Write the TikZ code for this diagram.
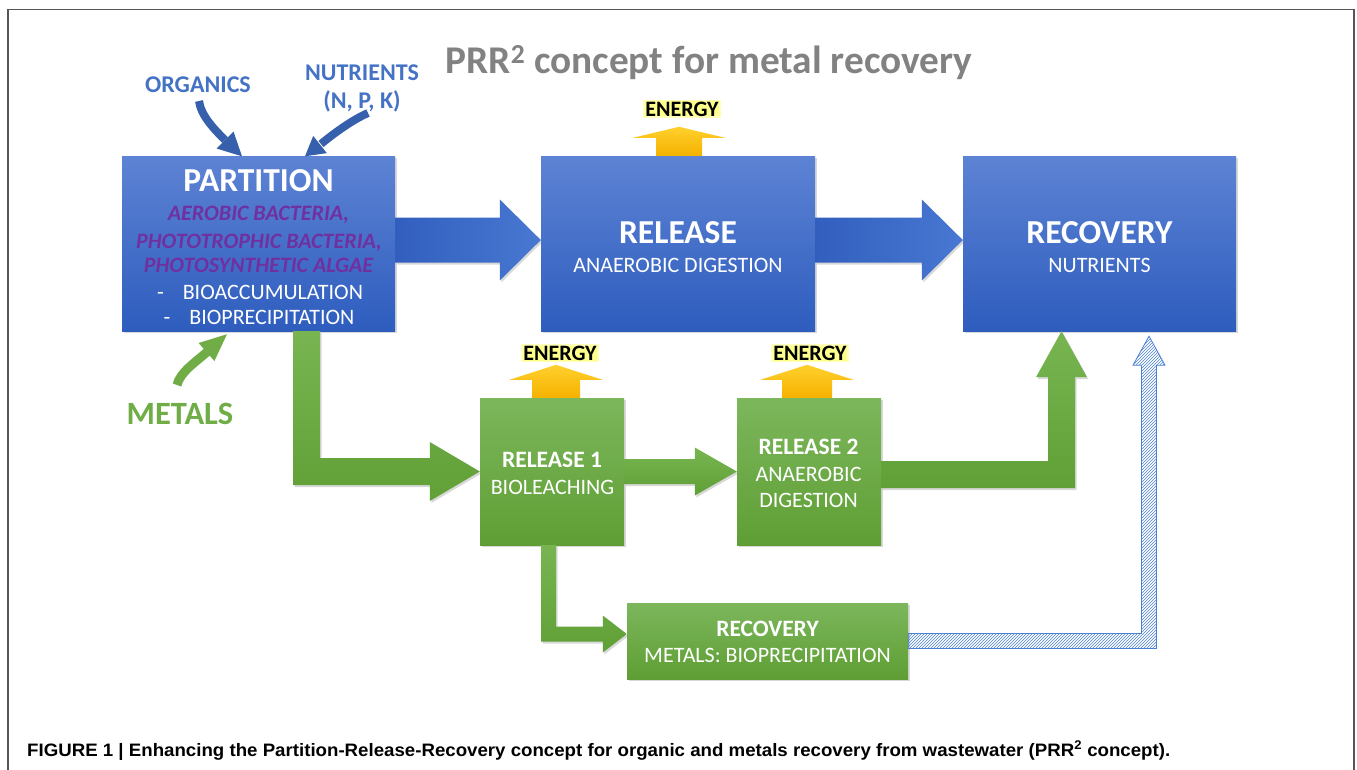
\documentclass[tikz,border=0pt]{standalone}
\usepackage{fontspec}
\setmainfont{Carlito}
\newfontfamily\capfont{Liberation Sans}
\usetikzlibrary{calc,shadows,patterns}
\definecolor{boxBlueT}{RGB}{93,131,212}
\definecolor{boxBlueB}{RGB}{46,93,190}
\definecolor{arrBlueL}{RGB}{50,95,190}
\definecolor{arrBlueR}{RGB}{72,120,210}
\definecolor{boxGreenT}{RGB}{124,183,92}
\definecolor{boxGreenB}{RGB}{95,158,52}
\definecolor{arrGreenT}{RGB}{120,181,82}
\definecolor{arrGreenB}{RGB}{96,160,54}
\definecolor{enerT}{RGB}{255,208,45}
\definecolor{enerB}{RGB}{245,178,0}
\definecolor{enerBg}{RGB}{255,255,140}
\definecolor{inBlue}{RGB}{55,96,172}
\definecolor{txtBlue}{RGB}{68,114,196}
\definecolor{txtGreen}{RGB}{112,173,71}
\definecolor{txtPurple}{RGB}{112,48,160}
\definecolor{titleGray}{RGB}{130,130,130}
\definecolor{hatchBlue}{RGB}{75,128,212}
\definecolor{frameGray}{RGB}{85,85,85}
% horizontal block arrow: start, tip, half shaft, head length, half head, style
\newcommand\hblock[6]{%
  \path[#6] ($(#1)+(0,-#3)$) -- ($(#2)+(-#4,-#3)$) -- ($(#2)+(-#4,-#5)$) -- (#2)
    -- ($(#2)+(-#4,#5)$) -- ($(#2)+(-#4,#3)$) -- ($(#1)+(0,#3)$) -- cycle;}
% upward block arrow: start (bottom), tip (top), half shaft, head length, half head, style
\newcommand\vblock[6]{%
  \path[#6] ($(#1)+(-#3,0)$) -- ($(#2)+(-#3,#4)$) -- ($(#2)+(-#5,#4)$) -- (#2)
    -- ($(#2)+(#5,#4)$) -- ($(#2)+(#3,#4)$) -- ($(#1)+(#3,0)$) -- cycle;}
\tikzset{
  shad/.style={drop shadow={opacity=0.3,shadow xshift=1.5pt,shadow yshift=-2pt}},
  bluebox/.style={rectangle, inner sep=0pt, top color=boxBlueT, bottom color=boxBlueB, shad},
  greenbox/.style={rectangle, inner sep=0pt, top color=boxGreenT, bottom color=boxGreenB, shad},
  bluearrow/.style={left color=arrBlueL, right color=arrBlueR, shad},
  greenarrow/.style={top color=arrGreenT, bottom color=arrGreenB, shad},
  energyarrow/.style={top color=enerT, bottom color=enerB},
  hatcharrow/.style={pattern=north east lines, pattern color=hatchBlue, draw=hatchBlue, line width=0.8pt},
  wt/.style={text=white, inner sep=0pt, anchor=base},
  bigt/.style={wt, font=\fontsize{33.5}{34}\selectfont\bfseries},
  subt/.style={wt, font=\fontsize{22}{22}\selectfont},
  midt/.style={wt, font=\fontsize{23.5}{24}\selectfont\bfseries},
  purt/.style={text=txtPurple, inner sep=0pt, anchor=base, font=\fontsize{22}{22}\selectfont\bfseries\itshape},
  enlabel/.style={fill=enerBg, draw=enerBg!60, line width=1.5pt, inner xsep=1.5pt, inner ysep=1pt, anchor=base, font=\fontsize{22}{22}\selectfont\bfseries},
  intext/.style={text=txtBlue, inner sep=0pt, anchor=base, font=\fontsize{24}{24}\selectfont\bfseries},
  inarrow/.style={draw=inBlue, line width=8pt},
  metarrow/.style={draw=txtGreen, line width=9pt}
}
\begin{document}
\begin{tikzpicture}[x=1pt,y=-1pt]
\useasboundingbox (0,0) rectangle (1357,769);
\fill[white] (0,0) rectangle (1357,769);
\draw[frameGray, line width=1.2pt] (8,772) -- (8,9.5) -- (1354,9.5) -- (1354,772);

% title
\node[anchor=base, inner sep=0pt, text=titleGray, font=\fontsize{39.3}{40}\selectfont\bfseries] (title) at (709,73) {PRR\textsuperscript{2} concept for metal recovery};

% boxes
\node[bluebox, minimum width=273pt, minimum height=175pt] (part) at (258.5,243.5) {};
\node[bluebox, minimum width=274pt, minimum height=175pt] (rel) at (678,243.5) {};
\node[bluebox, minimum width=273pt, minimum height=175pt] (rec) at (1099.5,243.5) {};
\node[greenbox, minimum width=144pt, minimum height=147pt] (rel1) at (552,471.5) {};
\node[greenbox, minimum width=144pt, minimum height=147pt] (rel2) at (809,471.5) {};
\node[greenbox, minimum width=281pt, minimum height=76pt] (recm) at (767.5,641) {};

% partition text
\node[bigt] (partT) at (258.5,191) {PARTITION};
\node[purt] (partP1) at (258.5,220) {AEROBIC BACTERIA,};
\node[purt] (partP2) at (259,248) {PHOTOTROPHIC BACTERIA,};
\node[purt] (partP3) at (258.5,272) {PHOTOSYNTHETIC ALGAE};
\node[subt] (partB1) at (260,299) {-\hspace{19pt}BIOACCUMULATION};
\node[subt] (partB2) at (259,324) {-\hspace{19pt}BIOPRECIPITATION};

% release / recovery text
\node[bigt] (relT) at (678,243) {RELEASE};
\node[subt] (relS) at (678,272) {ANAEROBIC DIGESTION};
\node[bigt] (recT) at (1099.5,243) {RECOVERY};
\node[subt] (recS) at (1099.5,272) {NUTRIENTS};
\node[midt] (rel1T) at (552,467.5) {RELEASE 1};
\node[subt] (rel1S) at (552.5,494) {BIOLEACHING};
\node[midt] (rel2T) at (808.5,454) {RELEASE 2};
\node[subt] (rel2S) at (808.5,481) {ANAEROBIC};
\node[subt] (rel2S2) at (808.5,507) {DIGESTION};
\node[midt] (recmT) at (767.5,636) {RECOVERY};
\node[subt] (recmS) at (767.5,662) {METALS: BIOPRECIPITATION};

% blue block arrows
\coordinate (a1s) at ($(part.east)+(0,-3.5)$);
\coordinate (a1e) at ($(rel.west)+(0,-3.5)$);
\hblock{a1s}{a1e}{22.5}{41}{40.5}{bluearrow}
\coordinate (a2s) at ($(rel.east)+(0,-3.5)$);
\coordinate (a2e) at ($(rec.west)+(0,-3.5)$);
\hblock{a2s}{a2e}{22.5}{41}{40.5}{bluearrow}

% green block arrows
\coordinate (a3s) at ($(part.south)+(48,0)$);
\coordinate (a3c) at (a3s |- rel1.west);
\path[greenarrow] ($(a3s)+(-13.5,0)$) -- ($(a3c)+(-13.5,13.5)$) -- ($(rel1.west)+(-50,13.5)$)
  -- ($(rel1.west)+(-50,29.5)$) -- (rel1.west) -- ($(rel1.west)+(-50,-29.5)$)
  -- ($(rel1.west)+(-50,-13.5)$) -- ($(a3c)+(13.5,-13.5)$) -- ($(a3s)+(13.5,0)$) -- cycle;

\coordinate (a4s) at (rel1.east);
\coordinate (a4e) at (rel2.west);
\hblock{a4s}{a4e}{12.5}{42}{24}{greenarrow}

\coordinate (a5s) at ($(rel2.east)+(0,3)$);
\coordinate (a5e) at ($(rec.south)+(-38,0)$);
\coordinate (a5c) at (a5e |- a5s);
\path[greenarrow] ($(a5s)+(0,-13.5)$) -- ($(a5c)+(-13.5,-13.5)$) -- ($(a5e)+(-13.5,46)$)
  -- ($(a5e)+(-25.5,46)$) -- (a5e) -- ($(a5e)+(25.5,46)$) -- ($(a5e)+(13.5,46)$)
  -- ($(a5c)+(13.5,13.5)$) -- ($(a5s)+(0,13.5)$) -- cycle;

\coordinate (a6s) at ($(rel1.south)+(-3.5,0)$);
\coordinate (a6e) at ($(recm.west)+(0,-7)$);
\coordinate (a6c) at (a6s |- a6e);
\path[greenarrow] ($(a6s)+(-7.5,0)$) -- ($(a6c)+(-7.5,7.5)$) -- ($(a6e)+(-24,7.5)$)
  -- ($(a6e)+(-24,18.5)$) -- (a6e) -- ($(a6e)+(-24,-18.5)$) -- ($(a6e)+(-24,-7.5)$)
  -- ($(a6c)+(7.5,-7.5)$) -- ($(a6s)+(7.5,0)$) -- cycle;

% hatched arrow
\coordinate (a7s) at (recm.east);
\coordinate (a7e) at ($(rec.south)+(49.5,5)$);
\coordinate (a7c) at (a7e |- a7s);
\path[hatcharrow] ($(a7s)+(0,-7.5)$) -- ($(a7c)+(-7.5,-7.5)$) -- ($(a7e)+(-7.5,29)$)
  -- ($(a7e)+(-16,29)$) -- (a7e) -- ($(a7e)+(16,29)$) -- ($(a7e)+(7.5,29)$)
  -- ($(a7c)+(7.5,7.5)$) -- ($(a7s)+(0,7.5)$) -- cycle;

% energy arrows
\coordinate (e0s) at ($(rel.north)+(1,0)$);
\coordinate (e0) at ($(rel.north)+(1,-29)$);
\vblock{e0s}{e0}{23}{11}{46}{energyarrow}
\coordinate (e1s) at ($(rel1.north)+(4,0)$);
\coordinate (e1) at ($(rel1.north)+(4,-33)$);
\vblock{e1s}{e1}{24}{15}{46.5}{energyarrow}
\coordinate (e2s) at ($(rel2.north)+(-2,0)$);
\coordinate (e2) at ($(rel2.north)+(-2,-33)$);
\vblock{e2s}{e2}{25}{15}{46.5}{energyarrow}
\node[enlabel] (en0) at (682,116) {ENERGY};
\node[enlabel] (en1) at (560,360.5) {ENERGY};
\node[enlabel] (en2) at (810,360.5) {ENERGY};

% inputs
\node[intext] (org) at (198,92) {ORGANICS};
\node[intext] (nut1) at (362,80) {NUTRIENTS};
\node[intext] (nut2) at (362,108) {(N, P, K)};
\node[text=txtGreen, inner sep=0pt, anchor=base, font=\fontsize{32.5}{33}\selectfont\bfseries] (met) at (180,424) {METALS};

\coordinate (orgT) at (199,101);
\coordinate (orgB) at (225,140);
\coordinate (orgTip) at ($(part.north)+(-16.5,0.5)$);
\draw[inarrow] (orgT) .. controls (201,116) and (215,130) .. (orgB);
\fill[inBlue] (orgTip) -- (233.5,131.5) -- (216.5,148.5) -- cycle;

\coordinate (nutT) at (368,113);
\coordinate (nutB) at (321,144);
\coordinate (nutTip) at ($(part.north)+(46.5,0.5)$);
\draw[inarrow] (nutT) .. controls (352,120) and (333,134) .. (nutB);
\fill[inBlue] (nutTip) -- (326.8,153.1) -- (313.2,135.9) -- cycle;

\coordinate (metT) at (177,385);
\coordinate (metB) at (207,352);
\coordinate (metTip) at ($(part.south)+(-31.5,3)$);
\draw[metarrow] (metT) .. controls (180,372) and (197,361) .. (metB);
\fill[txtGreen] (metTip) -- (214.4,361) -- (198.6,343) -- cycle;

% caption
\node[anchor=base west, inner sep=0pt] (cap) at (27,756) {\resizebox{1143pt}{\height}{\capfont\bfseries\fontsize{18}{20}\selectfont FIGURE 1 | Enhancing the Partition-Release-Recovery concept for organic and metals recovery from wastewater (PRR\textsuperscript{2} concept).}};
\end{tikzpicture}
\end{document}
